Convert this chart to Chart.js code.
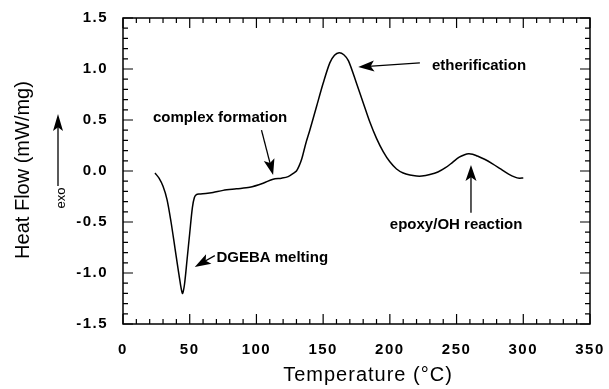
<!DOCTYPE html>
<html>
<head>
<meta charset="utf-8">
<script src="https://cdn.jsdelivr.net/npm/chart.js@4/dist/chart.umd.min.js"></script>
<style>
  html, body { margin: 0; padding: 0; background: #fff; }
  #wrap { width: 609px; height: 389px; position: relative; }
</style>
</head>
<body>
<div id="wrap"><canvas id="c" width="609" height="389"></canvas></div>
<script>
// ---- data ----
const temperature = [24, 27, 30, 33, 36, 39, 42, 44.5, 46, 48, 50, 52, 53.5, 55, 57, 62, 67.5, 75, 85, 95, 105, 112.5, 118.8, 123.8, 128, 130, 132, 134, 137, 140, 145, 150, 155, 158.5, 162, 165.5, 169, 175, 180, 185, 190, 195, 200, 205, 210, 215, 220, 224, 230, 236, 242, 247, 252, 256, 259, 262, 265, 271, 277, 283, 289, 293.8, 297, 300];
const heatFlow = [-0.02, -0.07, -0.15, -0.28, -0.50, -0.76, -1.02, -1.20, -1.12, -0.87, -0.61, -0.36, -0.26, -0.232, -0.225, -0.22, -0.21, -0.19, -0.175, -0.16, -0.12, -0.08, -0.07, -0.055, -0.02, 0.0, 0.05, 0.12, 0.27, 0.40, 0.63, 0.86, 1.06, 1.135, 1.16, 1.14, 1.08, 0.86, 0.67, 0.48, 0.32, 0.19, 0.09, 0.02, -0.02, -0.04, -0.05, -0.05, -0.035, -0.01, 0.035, 0.085, 0.135, 0.16, 0.17, 0.165, 0.15, 0.115, 0.07, 0.02, -0.03, -0.06, -0.07, -0.068];
const xTicks = [0, 50, 100, 150, 200, 250, 300, 350];
const yTicks = [-1.5, -1.0, -0.5, 0.0, 0.5, 1.0, 1.5];
const xTitle = 'Temperature (°C)';
const yTitle = 'Heat Flow (mW/mg)';
const annotationLabels = ['etherification', 'complex formation', 'epoxy/OH reaction', 'DGEBA melting'];

// annotation placement in data units (text anchor, arrow tail, arrow tip)
const annotationPlaces = [
  { text: [231.5, 1.03], tail: [222.5, 1.06], tip: [176.3, 1.02] },
  { text: [22.5, 0.52], tail: [103.8, 0.40], tip: [112.5, -0.04] },
  { text: [200, -0.53], tail: [260.8, -0.41], tip: [260.8, 0.06] },
  { text: [70, -0.85], tail: [68.8, -0.83], tip: [53.8, -0.94] }
];

const points = temperature.map((t, i) => ({ x: t, y: heatFlow[i] }));

function arrowHead(ctx, x1, y1, x2, y2, len, half) {
  const a = Math.atan2(y2 - y1, x2 - x1);
  const bx = x2 - len * Math.cos(a), by = y2 - len * Math.sin(a);
  const nx = -Math.sin(a), ny = Math.cos(a);
  const mx = x2 - len * 0.78 * Math.cos(a), my = y2 - len * 0.78 * Math.sin(a);
  ctx.beginPath();
  ctx.moveTo(x2, y2);
  ctx.lineTo(bx + nx * half, by + ny * half);
  ctx.lineTo(mx, my);
  ctx.lineTo(bx - nx * half, by - ny * half);
  ctx.closePath();
  ctx.fill();
}

const spacing = {
  id: 'spacing',
  beforeDraw(chart) { chart.ctx.letterSpacing = '1.5px'; },
  beforeDatasetsDraw(chart) { chart.ctx.letterSpacing = '0px'; }
};

const decor = {
  id: 'decor',
  afterDraw(chart) {
    const ctx = chart.ctx;
    const xs = chart.scales.x, ys = chart.scales.y;
    const a = chart.chartArea;
    ctx.save();
    ctx.letterSpacing = '0px';
    ctx.strokeStyle = '#000';
    ctx.fillStyle = '#000';
    // frame
    ctx.lineWidth = 1.5;
    ctx.strokeRect(a.left, a.top, a.right - a.left, a.bottom - a.top);
    // ticks
    ctx.lineWidth = 1.2;
    ctx.beginPath();
    for (let v = 0; v <= 350; v += 10) {
      const p = xs.getPixelForValue(v);
      const L = (v % 50 === 0) ? 10 : 5;
      ctx.moveTo(p, a.bottom); ctx.lineTo(p, a.bottom - L);
      ctx.moveTo(p, a.top); ctx.lineTo(p, a.top + L);
    }
    for (let k = -15; k <= 15; k++) {
      const p = ys.getPixelForValue(k / 10);
      const L = (k % 5 === 0) ? 10 : 5;
      ctx.moveTo(a.left, p); ctx.lineTo(a.left + L, p);
      ctx.moveTo(a.right, p); ctx.lineTo(a.right - L, p);
    }
    ctx.stroke();

    // axis titles
    ctx.font = '20px "Liberation Sans", Arial, sans-serif';
    ctx.textAlign = 'center';
    ctx.textBaseline = 'middle';
    ctx.letterSpacing = '1px';
    ctx.fillText(xTitle, 368, 375);
    ctx.letterSpacing = '0px';
    ctx.save();
    ctx.translate(23, 170);
    ctx.rotate(-Math.PI / 2);
    ctx.fillText(yTitle, 0, 0);
    ctx.restore();

    // exo arrow
    ctx.lineWidth = 1.3;
    ctx.beginPath();
    ctx.moveTo(58, 186); ctx.lineTo(58, 124);
    ctx.stroke();
    arrowHead(ctx, 58, 186, 58, 114, 17, 5);
    ctx.save();
    ctx.translate(61, 198);
    ctx.rotate(-Math.PI / 2);
    ctx.font = '13px "Liberation Sans", Arial, sans-serif';
    ctx.fillText('exo', 0, 0);
    ctx.restore();

    // annotations
    ctx.font = 'bold 15px "Liberation Sans", Arial, sans-serif';
    ctx.textAlign = 'left';
    annotationLabels.forEach((lab, i) => {
      const p = annotationPlaces[i];
      const tx = xs.getPixelForValue(p.text[0]), ty = ys.getPixelForValue(p.text[1]);
      ctx.fillText(lab, tx, ty);
      const x1 = xs.getPixelForValue(p.tail[0]), y1 = ys.getPixelForValue(p.tail[1]);
      const x2 = xs.getPixelForValue(p.tip[0]), y2 = ys.getPixelForValue(p.tip[1]);
      const ang = Math.atan2(y2 - y1, x2 - x1);
      ctx.lineWidth = 1.3;
      ctx.beginPath();
      ctx.moveTo(x1, y1);
      ctx.lineTo(x2 - 10 * Math.cos(ang), y2 - 10 * Math.sin(ang));
      ctx.stroke();
      arrowHead(ctx, x1, y1, x2, y2, 16, 5.5);
    });
    ctx.restore();
  }
};

function noPad(s) {
  s.paddingLeft = 0; s.paddingRight = 0; s.paddingTop = 0; s.paddingBottom = 0;
}

new Chart(document.getElementById('c'), {
  type: 'line',
  data: {
    datasets: [{
      data: points,
      borderColor: '#000',
      borderWidth: 1.5,
      pointRadius: 0,
      fill: false,
      tension: 0.3
    }]
  },
  options: {
    responsive: false,
    animation: false,
    devicePixelRatio: 1,
    layout: { padding: { left: 0, right: 19, top: 18, bottom: 0 } },
    plugins: { legend: { display: false }, tooltip: { enabled: false } },
    scales: {
      x: {
        type: 'linear', min: 0, max: 350,
        afterBuildTicks: s => { s.ticks = xTicks.map(v => ({ value: v })); },
        afterFit: s => { s.height = 65; noPad(s); },
        grid: { display: false, drawTicks: false },
        border: { display: false },
        ticks: {
          color: '#000', padding: 17, maxRotation: 0,
          font: { family: '"Liberation Sans", Arial, sans-serif', size: 15, weight: 'bold' },
          callback: v => String(v)
        }
      },
      y: {
        type: 'linear', min: -1.5, max: 1.5,
        afterBuildTicks: s => { s.ticks = yTicks.map(v => ({ value: v })); },
        afterFit: s => { s.width = 123; noPad(s); },
        grid: { display: false, drawTicks: false },
        border: { display: false },
        ticks: {
          color: '#000', padding: 15,
          font: { family: '"Liberation Sans", Arial, sans-serif', size: 15, weight: 'bold' },
          callback: v => Number(v).toFixed(1)
        }
      }
    }
  },
  plugins: [spacing, decor]
});
</script>
</body>
</html>
